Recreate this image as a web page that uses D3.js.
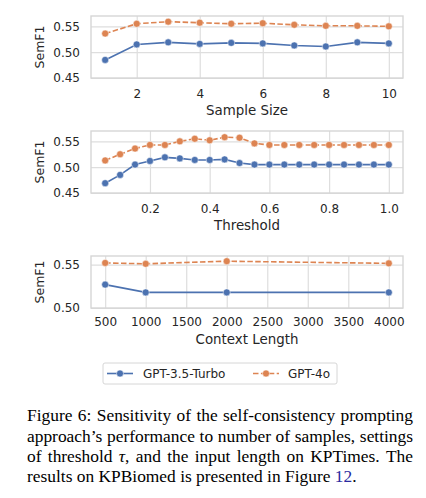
<!DOCTYPE html>
<html><head><meta charset="utf-8">
<script src="https://cdn.jsdelivr.net/npm/d3@7"></script>
<style>
html,body{margin:0;padding:0;background:#fff;}
svg{display:block;}
</style></head>
<body>
<script>
// ---------- data ----------
const sampleSizes = [1,2,3,4,5,6,7,8,9,10];
const sampleGPT35 = [0.485,0.515,0.519,0.516,0.518,0.517,0.513,0.511,0.519,0.517];
const sampleGPT4o = [0.536,0.555,0.559,0.557,0.555,0.556,0.553,0.551,0.551,0.550];

const thresholds = [0.05,0.10,0.15,0.20,0.25,0.30,0.35,0.40,0.45,0.50,0.55,0.60,0.65,0.70,0.75,0.80,0.85,0.90,0.95,1.00];
const threshGPT35 = [0.469,0.485,0.505,0.512,0.519,0.517,0.514,0.514,0.515,0.508,0.505,0.505,0.505,0.505,0.505,0.505,0.505,0.505,0.505,0.505];
const threshGPT4o = [0.513,0.525,0.536,0.543,0.543,0.550,0.555,0.552,0.558,0.557,0.546,0.543,0.543,0.543,0.543,0.543,0.543,0.543,0.543,0.543];

const contextLengths = [500,1000,2000,4000];
const ctxGPT35 = [0.527,0.518,0.518,0.518];
const ctxGPT4o = [0.552,0.551,0.554,0.5515];

const sampleTicks = [2,4,6,8,10];
const threshTicks = [0.2,0.4,0.6,0.8,1.0];
const ctxTicks = [500,1000,1500,2000,2500,3000,3500,4000];
const yTicksA = [0.45,0.50,0.55];
const yTicksB = [0.50,0.55];

const seriesNames = ["GPT-3.5-Turbo","GPT-4o"];
const captionLines = [
  "Figure 6: Sensitivity of the self-consistency prompting",
  "approach’s performance to number of samples, settings",
  "of threshold τ, and the input length on KPTimes. The",
  "results on KPBiomed is presented in Figure 12."
];

// ---------- styles ----------
const W = 426, H = 498;
const colors = ["#4c72b0","#dd8452"];
const dashes = [null,"5.5,2.4"];
const gridColor = "#dedede";
const textColor = "#262626";
const sans = "'DejaVu Sans', sans-serif";
const serif = "'Liberation Serif', 'Times New Roman', serif";

const svg = d3.select("body").append("svg").attr("width",W).attr("height",H);

const L = 91, R = 403;

const panels = [
  {top:16, bottom:78, x:sampleSizes, ys:[sampleGPT35,sampleGPT4o], xdom:[0.55,10.45], ydom:[0.45,0.57],
   xt:sampleTicks, xf:d=>String(d), yt:yTicksA, label:"Sample Size", tickBase:98, labelBase:115},
  {top:131, bottom:193, x:thresholds, ys:[threshGPT35,threshGPT4o], xdom:[0.0025,1.0475], ydom:[0.45,0.57],
   xt:threshTicks, xf:d3.format(".1f"), yt:yTicksA, label:"Threshold", tickBase:213, labelBase:230},
  {top:256, bottom:308, x:contextLengths, ys:[ctxGPT35,ctxGPT4o], xdom:[325,4175], ydom:[0.50,0.56],
   xt:ctxTicks, xf:d=>String(d), yt:yTicksB, label:"Context Length", tickBase:326, labelBase:344}
];

panels.forEach(p => {
  const x = d3.scaleLinear().domain(p.xdom).range([L,R]);
  const y = d3.scaleLinear().domain(p.ydom).range([p.bottom,p.top]);
  const g = svg.append("g");
  const h = p.bottom - p.top;

  const gx = g.append("g").attr("transform",`translate(0,${p.bottom})`)
    .call(d3.axisBottom(x).tickValues(p.xt).tickSize(-h).tickFormat(""));
  gx.select(".domain").remove();
  gx.selectAll("line").attr("stroke",gridColor).attr("stroke-width",1.2);
  const gy = g.append("g").attr("transform",`translate(${L},0)`)
    .call(d3.axisLeft(y).tickValues(p.yt).tickSize(-(R-L)).tickFormat(""));
  gy.select(".domain").remove();
  gy.selectAll("line").attr("stroke",gridColor).attr("stroke-width",1.2);

  g.append("rect").attr("x",L).attr("y",p.top).attr("width",R-L).attr("height",h)
    .attr("fill","none").attr("stroke","#d6d6d6").attr("stroke-width",1.4);

  const lx = g.append("g").attr("transform",`translate(0,${p.bottom})`)
    .call(d3.axisBottom(x).tickValues(p.xt).tickSize(0).tickPadding(0).tickFormat(p.xf));
  lx.select(".domain").remove();
  lx.selectAll("text").attr("y",p.tickBase-p.bottom).attr("dy",null)
    .attr("font-family",sans).attr("font-size",12).attr("fill",textColor);

  const ly = g.append("g").attr("transform",`translate(${L},0)`)
    .call(d3.axisLeft(y).tickValues(p.yt).tickSize(0).tickPadding(11).tickFormat(d3.format(".2f")));
  ly.select(".domain").remove();
  ly.selectAll("text").attr("font-family",sans).attr("font-size",12).attr("fill",textColor);

  g.append("text").attr("x",(L+R)/2).attr("y",p.labelBase).attr("text-anchor","middle")
    .attr("font-family",sans).attr("font-size",13.4).attr("fill",textColor).text(p.label);
  g.append("text").attr("transform",`translate(44,${(p.top+p.bottom)/2}) rotate(-90)`)
    .attr("text-anchor","middle").attr("font-family",sans).attr("font-size",12.5)
    .attr("fill",textColor).text("SemF1");

  p.ys.forEach((vals,i) => {
    const pts = p.x.map((xv,k)=>[xv,vals[k]]);
    g.append("path").datum(pts)
      .attr("d",d3.line().x(d=>x(d[0])).y(d=>y(d[1])))
      .attr("fill","none").attr("stroke",colors[i]).attr("stroke-width",1.6)
      .attr("stroke-dasharray",dashes[i]);
    g.selectAll(null).data(pts).enter().append("circle")
      .attr("cx",d=>x(d[0])).attr("cy",d=>y(d[1])).attr("r",3.5)
      .attr("fill",colors[i]).attr("stroke","#fff").attr("stroke-width",0.5);
  });
});

// ---------- legend ----------
const lg = svg.append("g");
lg.append("rect").attr("x",103).attr("y",363).attr("width",234).attr("height",21).attr("rx",2)
  .attr("fill","#fff").attr("stroke","#d6d6d6").attr("stroke-width",1);
const legendItems = [{x0:107,tx:143},{x0:253,tx:288}];
seriesNames.forEach((name,i)=>{
  const it = legendItems[i];
  lg.append("line").attr("x1",it.x0).attr("x2",it.x0+26).attr("y1",373.5).attr("y2",373.5)
    .attr("stroke",colors[i]).attr("stroke-width",1.6).attr("stroke-dasharray",dashes[i]);
  lg.append("circle").attr("cx",it.x0+13).attr("cy",373.5).attr("r",3.5)
    .attr("fill",colors[i]).attr("stroke","#fff").attr("stroke-width",0.5);
  lg.append("text").attr("x",it.tx).attr("y",378).attr("font-family",sans).attr("font-size",12)
    .attr("fill",textColor).text(name);
});

// ---------- caption ----------
const capX0 = 27, capX1 = 413, capBase = [421,441.5,461.5,481.5];
const cap = svg.append("g").attr("font-family",serif).attr("font-size",17.4).attr("fill","#000");
captionLines.forEach((line,li)=>{
  const words = line.split(" ");
  const justify = li < 3;
  const nodes = words.map(w=>{
    const t = cap.append("text").attr("y",capBase[li]);
    if (w.startsWith("τ")) {
      t.append("tspan").attr("font-style","italic").text("τ");
      t.append("tspan").text(w.slice(1));
    } else if (w === "12.") {
      t.append("tspan").attr("fill","#2a2aa0").text("12");
      t.append("tspan").text(".");
    } else t.text(w);
    return t;
  });
  const widths = nodes.map(n=>n.node().getComputedTextLength());
  const total = d3.sum(widths);
  const spaceW = 4.35;
  const gap = justify ? (capX1-capX0-total)/(words.length-1) : spaceW;
  let cx = capX0;
  nodes.forEach((n,k)=>{ n.attr("x",cx); cx += widths[k]+gap; });
});
</script>
</body></html>
